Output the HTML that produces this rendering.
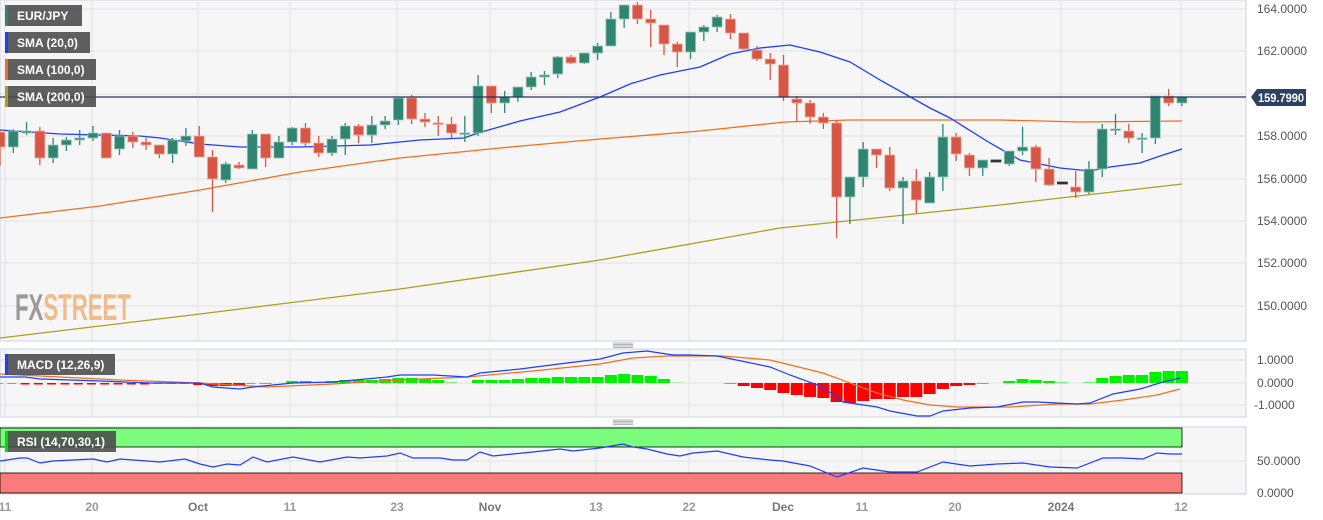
<!DOCTYPE html>
<html><head><meta charset="utf-8"><style>
html,body{margin:0;padding:0;background:#fff;width:1323px;height:520px;overflow:hidden;font-family:"Liberation Sans",sans-serif}
svg{position:absolute;left:0;top:0}
</style></head><body>
<svg id="s" width="1323" height="520" xmlns="http://www.w3.org/2000/svg"></svg>
<script>
const S=document.getElementById('s');let h='';
const X=i=>13.28*i;
h+='<rect x="0" y="0" width="1246" height="341" fill="#f6f6f6" stroke="#cdd3e3"/>';
h+='<rect x="0" y="349" width="1246" height="68" fill="#f6f6f6" stroke="#cdd3e3"/>';
h+='<rect x="0" y="427" width="1246" height="67" fill="#f6f6f6" stroke="#cdd3e3"/>';
const vx=[5,92,198,290,397,490,596,689,783,862,955,1061,1181];
vx.forEach(x=>{h+=`<line x1="${x}" y1="0" x2="${x}" y2="341" stroke="#e2e2e2"/><line x1="${x}" y1="349" x2="${x}" y2="417" stroke="#e2e2e2"/><line x1="${x}" y1="427" x2="${x}" y2="494" stroke="#e2e2e2"/>`});
[9,51,94,136,179,221,263,306].forEach(y=>h+=`<line x1="0" y1="${y}" x2="1246" y2="${y}" stroke="#e2e2e2"/>`);
[360,383,405].forEach(y=>h+=`<line x1="0" y1="${y}" x2="1246" y2="${y}" stroke="#e2e2e2"/>`);
h+='<line x1="0" y1="461" x2="1246" y2="461" stroke="#e2e2e2"/>';
[[164,9],[162,51],[160,94],[158,136],[156,179],[154,221],[152,263],[150,306]].forEach(([v,y])=>{if(v!==160)h+=`<text x="1257" y="${y+4}" font-size="12" fill="#555">${v}.0000</text>`});
[["1.0000",360],["0.0000",383],["-1.0000",405]].forEach(([t,y])=>h+=`<text x="${t[0]=='-'?1254:1257}" y="${y+4}" font-size="12" fill="#555">${t}</text>`);
[["50.0000",461],["0.0000",493]].forEach(([t,y])=>h+=`<text x="1257" y="${y+4}" font-size="12" fill="#555">${t}</text>`);
[["11",5,0],["20",92,0],["Oct",198,1],["11",290,0],["23",397,0],["Nov",490,1],["13",596,0],["22",689,0],["Dec",783,1],["11",862,0],["20",955,0],["2024",1061,1],["12",1181,0]].forEach(([t,x,b])=>h+=`<text x="${x}" y="511" font-size="12" text-anchor="middle" font-weight="bold" fill="${b?'#777':'#999'}">${t}</text>`);
h+='<g transform="translate(15,320) scale(0.6,1)"><text x="0" y="0" font-size="37" font-weight="bold" fill="#8a8a8a" opacity="0.85">FX<tspan fill="#f0b37a">STREET</tspan></text></g>';
const P=a=>a.map(p=>p.join(',')).join(' ');
h+=`<polyline fill="none" stroke="#aaa020" stroke-width="1.3" points="${P([[0,338],[200,314],[400,289],[600,260],[780,228],[1000,205],[1182,184]])}"/>`;
h+=`<polyline fill="none" stroke="#f07020" stroke-width="1.3" points="${P([[0,218],[100,206],[200,190],[300,172],[400,158],[500,148],[600,139],[700,131],[785,122],[850,120],[1000,120],[1080,122],[1182,121]])}"/>`;
h+=`<polyline fill="none" stroke="#1f3cff" stroke-width="1.3" points="${P([[0,130],[60,134],[140,136],[160,138],[200,144],[240,147],[300,147],[370,145],[420,140],[464,138],[478,133],[520,121],[560,112],[600,97],[630,84],[660,75],[700,67],[730,54],[760,48],[790,45],[820,52],[850,62],[880,80],[930,108],[950,118],[990,143],[1020,160],[1060,168],[1090,171],[1110,167],[1140,163],[1160,156],[1182,149]])}"/>`;
const C=[['r',132,147,130,166],['g',131,147,129,153],['g',131,133,122,135],['r',131,158,127,165],['g',145,158,138,163],['g',140,145,137,151],['g',138,140,130,145],['g',133,138,126,141],['r',133,158,133,157],['g',136,149,130,155],
['r',136,142,132,148],['r',142,145,138,150],['r',145,154,145,158],['g',140,154,138,163],['g',136,141,128,146],['r',136,157,126,157],['r',157,179,150,212],['g',164,180,162,183],['r',165,168,162,169],['g',134,169,130,169],
['r',134,158,134,167],['g',142,158,136,158],['g',128,142,127,145],['r',128,143,123,146],['r',143,153,136,157],['g',139,153,136,156],['g',126,139,123,155],['r',126,135,124,143],['g',125,135,116,143],['g',121,125,116,129],
['g',98,120,98,125],['r',98,119,95,124],['r',119,122,113,127],['r',123,124,116,136],['r',124,133,117,138],['g',133,134,116,142],['g',86,133,75,136],['r',86,103,86,113],['g',97,103,91,113],['g',87,97,87,102],
['g',77,87,72,90],['g',75,77,71,85],['g',57,74,56,78],['r',57,63,55,64],['g',53,63,53,64],['g',46,53,43,60],['g',19,46,12,46],['g',5,19,5,28],['r',5,19,2,24],['r',19,23,10,47],
['r',25,44,25,55],['r',44,52,42,67],['g',32,52,32,59],['g',27,32,25,41],['g',17,27,15,32],['r',19,33,14,39],['r',33,49,33,50],['r',50,59,46,61],['r',59,64,53,80],['r',65,97,55,101],
['r',99,103,96,121],['r',103,117,100,124],['r',117,123,113,129],['r',123,197,120,238],['g',177,197,177,224],['g',149,177,142,187],['r',149,155,149,168],['r',155,188,147,191],['g',181,188,177,224],['r',181,200,169,213],
['g',177,203,172,203],['g',137,177,124,191],['r',137,154,133,161],['r',155,168,153,176],['g',160,168,160,176],['k',160,162,161,161],['g',151,164,151,166],['g',147,151,127,155],['r',147,169,145,182],['r',169,185,158,186],
['k',182,184,183,183],['r',187,192,171,198],['g',169,192,161,194],['g',129,169,124,177],['g',129,130,114,135],['r',131,138,124,143],['g',138,139,133,153],['g',96,138,96,144],['r',96,103,89,106],['g',97,103,97,106]];
const col={g:'#2f8570',r:'#d75646',k:'#333'},brd={g:'#9ec9bc',r:'#eeaaa2',k:'#333'};
C.forEach((c,i)=>{const x=X(i);let bt=c[1],bb=Math.max(c[2],c[1]+1.5);
h+=`<line x1="${x}" y1="${c[3]}" x2="${x}" y2="${c[4]}" stroke="${col[c[0]]}" stroke-width="1.3"/>`;
h+=`<rect x="${x-5}" y="${bt}" width="10" height="${bb-bt}" fill="${col[c[0]]}" stroke="${brd[c[0]]}" stroke-width="0.8"/>`;});
h+='<line x1="0" y1="97" x2="1246" y2="97" stroke="#24345a" stroke-width="1.2"/>';
h+='<path d="M1251,97 L1257,89 L1306,89 L1306,106 L1257,106 Z" fill="#2d4166"/><text x="1258" y="102" font-size="12" font-weight="bold" fill="#fff" textLength="46" lengthAdjust="spacingAndGlyphs">159.7990</text>';
const Hh=[-1,-1,-1.5,-1.5,-1.5,-1.5,-1.5,-1.5,-1.5,-1.5,-1.5,-1.5,-1,-1,-1,-2,-3,-3,-3,-1,-1,0,2,2,1,2,3,3,3,4,5,5,4,3,1,0,3,3,3,4,5,5,6,6,6,6,8,9,8,7,4,0.5,0,0,0,-1,-3,-5,-7,-10,-12,-14,-15,-19,-20,-18,-16,-16,-14,-14,-11,-6,-3,-2,-1,0,2,4,3,2,1,0,1,5,7,8,8,11,12,12];
Hh.forEach((v,i)=>{const x=X(i);if(Math.abs(v)<0.3)return;const y=v>0?383-v:383;const fc=v>0?'#00f000':'#ff0000';const op=Math.abs(v)<1.2?0.5:1;
h+=`<rect x="${x-6}" y="${y}" width="${Math.abs(v)<2.5&&i<20?9:12}" height="${Math.abs(v)}" fill="${fc}" opacity="${op}"/>`});
h+=`<polyline fill="none" stroke="#f07020" stroke-width="1.2" points="${P([[0,374],[60,377],[120,380],[200,383],[267,387],[333,384],[400,380],[467,377],[533,371],[600,364],[633,358],[667,356],[700,356],[723,356],[770,360],[823,373],[850,383],[877,393],[903,400],[930,405],[957,407],[1010,407],[1057,404],[1090,404],[1123,400],[1157,395],[1180,389]])}"/>`;
h+=`<polyline fill="none" stroke="#1f3cff" stroke-width="1.2" points="${P([[0,377],[25,377],[40,379],[100,381],[150,383],[200,383],[213,387],[240,389],[253,387],[293,383],[333,382],[387,377],[400,375],[433,375],[467,377],[480,373],[520,369],[567,363],[600,359],[623,353],[647,351],[673,355],[690,355],[717,356],[770,367],[790,375],[823,387],[843,402],[877,407],[890,411],[917,416],[930,416],[943,411],[970,408],[997,407],[1023,402],[1037,402],[1057,403],[1077,404],[1090,403],[1113,394],[1140,389],[1163,382],[1180,378]])}"/>`;
h+='<rect x="0" y="428" width="1182" height="19" fill="#7cfc7c" stroke="#000" stroke-width="0.8"/>';
h+='<rect x="0" y="473" width="1182" height="20" fill="#fb7b7b" stroke="#000" stroke-width="0.8"/>';
h+=`<polyline fill="none" stroke="#1f3cff" stroke-width="1.2" points="${P([[0,461],[20,458],[27,458],[40,463],[53,461],[93,459],[107,462],[120,459],[160,462],[185,459],[200,464],[213,467],[227,464],[240,465],[253,457],[267,462],[293,457],[320,462],[347,457],[360,458],[387,456],[400,453],[413,458],[440,458],[453,460],[467,460],[480,452],[493,456],[533,452],[560,449],[573,451],[600,448],[623,444],[633,447],[647,449],[667,454],[680,456],[693,453],[717,451],[743,457],[770,460],[783,461],[810,466],[837,477],[863,468],[890,472],[917,472],[943,462],[970,466],[997,464],[1023,463],[1050,467],[1077,468],[1103,458],[1123,458],[1143,459],[1157,453],[1170,454],[1182,454]])}"/>`;
[345,422].forEach(y=>{for(let k=0;k<4;k++)h+=`<line x1="613" y1="${y-2+k*1.5}" x2="633" y2="${y-2+k*1.5}" stroke="#666" stroke-width="0.6"/>`});
function lg(x,y,w,t,c){h+=`<rect x="${x}" y="${y}" width="${w}" height="21" fill="#4a4a4a" opacity="0.88"/><rect x="${x}" y="${y}" width="3" height="21" fill="${c}"/><text x="${x+12}" y="${y+15}" font-size="12" font-weight="bold" fill="#fff">${t}</text>`}
lg(5,5,77,'EUR/JPY','#2f8570');lg(5,32,85,'SMA (20,0)','#1f3cff');lg(5,59,91,'SMA (100,0)','#f07020');lg(5,86,91,'SMA (200,0)','#aaa020');
lg(5,354,110,'MACD (12,26,9)','#1f3cff');lg(5,431,111,'RSI (14,70,30,1)','#00e000');
S.innerHTML=h;
</script>
</body></html>
